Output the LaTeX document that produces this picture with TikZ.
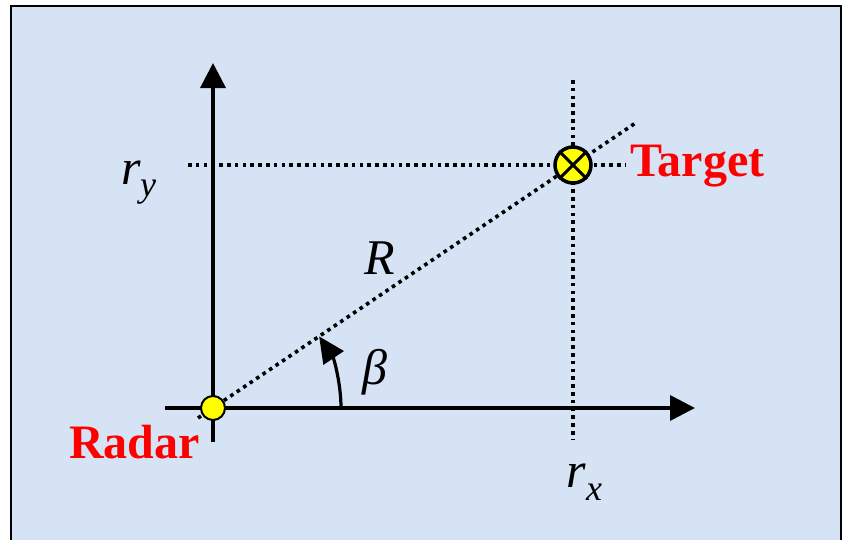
\documentclass[tikz,border=0pt]{standalone}
\usepackage{fontspec}
\setmainfont{Liberation Serif}
\usetikzlibrary{arrows.meta}
\definecolor{bgblue}{RGB}{214,227,245}
\definecolor{radyellow}{RGB}{255,255,0}
\tikzset{
  axisline/.style={line width=3.6pt,-{Triangle[length=25pt,width=25pt]}},
  dotline/.style={line width=3.6pt,dash pattern=on 3.6pt off 4.2pt},
  redlabel/.style={text=red,font=\fontsize{48}{50}\selectfont\bfseries,inner sep=0pt},
  itlabel/.style={font=\fontsize{50}{52}\selectfont\itshape,inner sep=0pt},
  sublabel/.style={font=\fontsize{36}{38}\selectfont\itshape,inner sep=0pt},
}
\begin{document}
\begin{tikzpicture}[x=1pt,y=-1pt]
\useasboundingbox (0,0) rectangle (847,539);
\fill[white] (0,0) rectangle (847,539);
\draw[line width=2.5pt,fill=bgblue] (11,6) rectangle (841,560);
% coordinates
\coordinate (O) at (213,408);
\coordinate (T) at (573,165);
\coordinate (yb) at (213,442);
\coordinate (yt) at (213,63);
\coordinate (xl) at (165,408);
\coordinate (xr) at (695,408);
\coordinate (hl) at (188,165);
\coordinate (hr) at (625,165);
\coordinate (vt) at (573,80);
\coordinate (vb) at (573,440);
\coordinate (dl) at (198,418);
\coordinate (dr) at (637,122);
% dotted lines
\draw[dotline] (hl) -- (hr);
\draw[dotline] (vt) -- (vb);
\draw[dotline] (dl) -- (dr);
% axes
\draw[axisline] (yb) -- (yt);
\draw[axisline] (xl) -- (xr);
% beta arc
\draw[line width=3.2pt,-{Triangle[length=26pt,width=24pt]}] (341,408) arc[start angle=0,end angle=-34,radius=128];
% radar and target
\node[circle,draw=black,line width=2pt,fill=radyellow,minimum size=24pt,inner sep=0pt] (radar) at (O) {};
\node[circle,draw=black,line width=3.5pt,fill=radyellow,minimum size=36pt,inner sep=0pt] (target) at (T) {};
\draw[line width=3pt] (target.north west) -- (target.south east);
\draw[line width=3pt] (target.south west) -- (target.north east);
% labels
\node[redlabel,anchor=base west] (targetlbl) at (630,176) {Target};
\node[redlabel,anchor=base west] (radarlbl) at (69,458) {Radar};
\node[itlabel,anchor=base west] (ry) at (121,184) {r};
\node[sublabel,anchor=base west] (rysub) at (140,196) {y};
\node[itlabel,anchor=base west] (rx) at (566,487) {r};
\node[sublabel,anchor=base west] (rxsub) at (586,500) {x};
\node[itlabel,anchor=base west] (Rlbl) at (364,274) {R};
\node[itlabel,anchor=base west] (beta) at (362,384) {β};
\end{tikzpicture}
\end{document}
